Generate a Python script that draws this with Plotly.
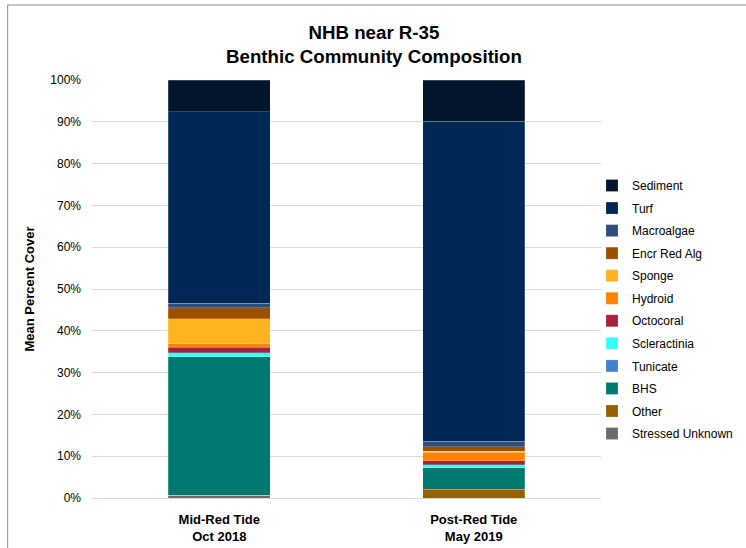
import plotly.graph_objects as go

# Survey periods (x categories)
periods = ["Mid-Red Tide<br>Oct 2018", "Post-Red Tide<br>May 2019"]

# Mean percent cover by group, stacked bottom to top
stressed_unknown = [0.7, 0.0]
other = [0.0, 2.1]
bhs = [33.1, 5.1]
tunicate = [0.0, 0.0]
scleractinia = [0.9, 0.8]
octocoral = [1.35, 0.9]
hydroid = [0.8, 2.0]
sponge = [6.0, 0.3]
encr_red_alg = [2.7, 1.1]
macroalgae = [1.1, 1.3]
turf = [45.7, 76.5]
sediment = [7.65, 9.9]

series = [
    ("Stressed Unknown", stressed_unknown, "#6b6b6b"),
    ("Other", other, "#946200"),
    ("BHS", bhs, "#007a70"),
    ("Tunicate", tunicate, "#3f80cf"),
    ("Scleractinia", scleractinia, "#33ffff"),
    ("Octocoral", octocoral, "#a6213c"),
    ("Hydroid", hydroid, "#ff8300"),
    ("Sponge", sponge, "#ffb41f"),
    ("Encr Red Alg", encr_red_alg, "#9b5000"),
    ("Macroalgae", macroalgae, "#2d4f7e"),
    ("Turf", turf, "#002855"),
    ("Sediment", sediment, "#02152b"),
]

fig = go.Figure()
n = len(series)
for i, (name, vals, color) in enumerate(series):
    fig.add_trace(go.Bar(
        x=periods, y=vals, name=name, legendgroup=name,
        legendrank=n - i,  # top of the stack listed first
        marker=dict(color=color, line=dict(color="rgba(255,255,255,0.35)", width=0.6)),
    ))

W, H = 746, 548
L, R, T, B = 91.5, 144.5, 80, 50
pw, ph = W - L - R, H - T - B

fig.update_layout(
    width=W, height=H,
    margin=dict(l=L, r=R, t=T, b=B, autoexpand=False),
    barmode="stack",
    bargap=0.6,
    plot_bgcolor="white",
    paper_bgcolor="white",
    font=dict(family="Arial, Liberation Sans, sans-serif", color="#000000", size=12),
    title=dict(
        text="<b>NHB near R-35<br>Benthic Community Composition</b>",
        x=(374 - L) / pw, xref="paper", xanchor="center",
        y=1 - 39 / H, yanchor="middle",
        font=dict(size=18.7, color="#000000"),
    ),
    legend=dict(
        traceorder="grouped",
        tracegroupgap=3.55,
        xref="container", yref="container",
        x=592 / W, xanchor="left",
        y=1 - 171 / H, yanchor="top",
        maxheight=1.0,
        font=dict(size=12, color="#000000"),
        itemclick=False,
        bgcolor="rgba(0,0,0,0)",
    ),
    showlegend=True,
)

fig.update_yaxes(
    range=[0, 100], dtick=10, ticksuffix="%",
    showgrid=True, gridcolor="#d9d9d9", gridwidth=1,
    zeroline=False, showline=False, automargin=False,
    ticks="", ticklen=0, ticklabelstandoff=10,
    tickfont=dict(size=12, color="#000000"),
    title=dict(text="<b>Mean Percent Cover</b>", font=dict(size=13), standoff=12),
)
fig.update_xaxes(
    showline=True, linecolor="#d9d9d9", linewidth=1, automargin=False,
    ticks="", ticklabelstandoff=9,
    tickfont=dict(size=13, color="#000000"),
    tickvals=periods,
    ticktext=["<b>Mid-Red Tide<br>Oct 2018</b>", "<b>Post-Red Tide<br>May 2019</b>"],
)

# Chart frame
fig.add_shape(
    type="rect", xref="paper", yref="paper",
    x0=(7 - L) / pw, x1=1 + (R + 10) / pw,
    y0=-(B + 10) / ph, y1=1 + (T - 5) / ph,
    line=dict(color="#8c8c8c", width=1), fillcolor="rgba(0,0,0,0)",
    layer="below",
)

fig.write_html("out.html")
